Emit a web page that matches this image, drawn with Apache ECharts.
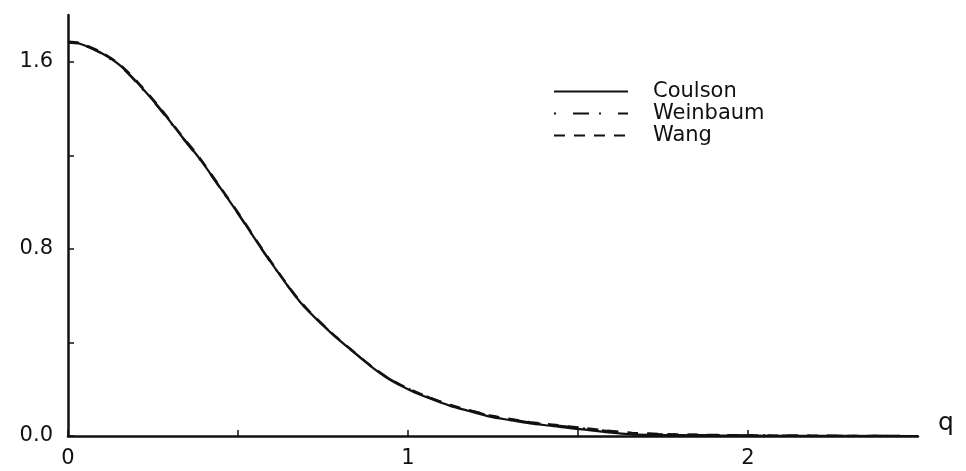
<!DOCTYPE html>
<html>
<head>
<meta charset="utf-8">
<script src="https://cdn.jsdelivr.net/npm/echarts@6/dist/echarts.min.js"></script>
<style>
  html, body { margin: 0; padding: 0; background: #fff; }
  #main { width: 966px; height: 471px; }
</style>
</head>
<body>
<div id="main"></div>
<script>
// momentum q and density values
var qValues  = [0, 0.035, 0.094, 0.153, 0.212, 0.271, 0.329, 0.388, 0.447, 0.506, 0.585, 0.682, 0.771, 0.829, 0.888, 0.947, 1.006, 1.065, 1.124, 1.182, 1.241, 1.3, 1.359, 1.418, 1.506, 1.66, 1.85, 2.1, 2.5];
var coulson  = [1.682, 1.677, 1.641, 1.585, 1.498, 1.399, 1.291, 1.184, 1.063, 0.939, 0.767, 0.574, 0.444, 0.372, 0.301, 0.240, 0.196, 0.160, 0.129, 0.106, 0.083, 0.068, 0.054, 0.044, 0.029, 0.007, 0.003, 0.001, 0];
var weinbaum = [1.682, 1.676, 1.639, 1.582, 1.495, 1.396, 1.289, 1.182, 1.061, 0.938, 0.767, 0.575, 0.446, 0.374, 0.303, 0.243, 0.199, 0.163, 0.132, 0.109, 0.087, 0.072, 0.058, 0.048, 0.034, 0.012, 0.005, 0.002, 0];
var wang     = [1.686, 1.68, 1.644, 1.588, 1.502, 1.403, 1.295, 1.188, 1.066, 0.943, 0.771, 0.578, 0.447, 0.375, 0.304, 0.244, 0.2, 0.164, 0.133, 0.11, 0.088, 0.073, 0.059, 0.05, 0.036, 0.014, 0.006, 0.002, 0];

var yTicks  = [0, 0.4, 0.8, 1.2, 1.6];
var yLabels = [0, 0.8, 1.6];
var xTicks  = [0, 0.5, 1, 1.5, 2];
var xLabels = [0, 1, 2];

function pairs(vals) {
  return qValues.map(function (q, i) { return [q, vals[i]]; });
}

var ink = '#111';
var font = 'DejaVu Sans';

var chart = echarts.init(document.getElementById('main'));

var option = {
  backgroundColor: '#fff',
  animation: false,
  grid: { left: 68, right: 48, top: 15, bottom: 35 },
  legend: {
    orient: 'vertical',
    left: 553,
    top: 81,
    padding: 0,
    itemWidth: 74,
    itemHeight: 14,
    itemGap: 1,
    itemStyle: { color: 'transparent', borderWidth: 0, opacity: 0 },
    textStyle: { fontFamily: font, fontSize: 21, color: ink, lineHeight: 20, padding: [0, 0, 0, 20] },
    data: ['Coulson', 'Weinbaum', 'Wang']
  },
  xAxis: {
    type: 'value',
    min: 0,
    max: 2.5,
    name: 'q',
    nameLocation: 'end',
    nameGap: 20,
    nameTextStyle: { fontFamily: font, fontSize: 25, color: ink, verticalAlign: 'bottom' },
    axisLine: { lineStyle: { color: ink, width: 2.5 } },
    axisTick: { show: true, inside: true, length: 6, customValues: xTicks, lineStyle: { color: ink, width: 1.5 } },
    axisLabel: {
      customValues: xLabels,
      margin: 12,
      fontFamily: font, fontSize: 21, color: ink,
      formatter: function (v) { return String(v); }
    },
    splitLine: { show: false }
  },
  yAxis: {
    type: 'value',
    min: 0,
    max: 1.8,
    axisLine: { show: true, lineStyle: { color: ink, width: 2.5 } },
    axisTick: { show: true, inside: true, length: 6, customValues: yTicks, lineStyle: { color: ink, width: 1.5 } },
    axisLabel: {
      customValues: yLabels,
      margin: 15,
      fontFamily: font, fontSize: 21, color: ink,
      formatter: function (v) { return v.toFixed(1); }
    },
    splitLine: { show: false }
  },
  series: [
    {
      name: 'Coulson', type: 'line', smooth: 0.3, symbol: 'none',
      lineStyle: { color: ink, width: 2.2, type: 'solid' },
      itemStyle: { color: ink },
      data: pairs(coulson)
    },
    {
      name: 'Weinbaum', type: 'line', smooth: 0.3, symbol: 'none',
      lineStyle: { color: ink, width: 2.2, type: [2, 17, 16, 10] },
      itemStyle: { color: ink },
      data: pairs(weinbaum)
    },
    {
      name: 'Wang', type: 'line', smooth: 0.3, symbol: 'none',
      lineStyle: { color: ink, width: 2.2, type: [11, 9] },
      itemStyle: { color: ink },
      data: pairs(wang)
    }
  ]
};

chart.setOption(option);
</script>
</body>
</html>
